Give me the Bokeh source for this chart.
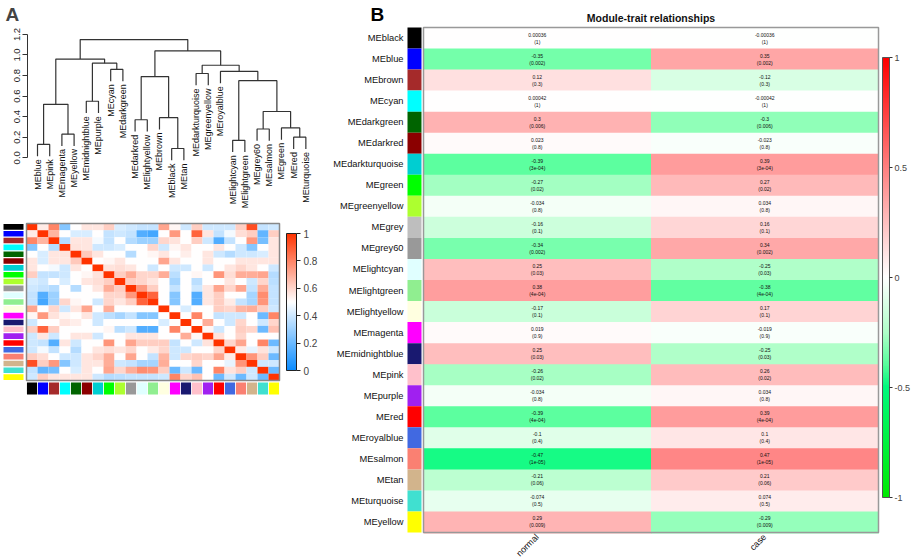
import numpy as np
from bokeh.plotting import figure
from bokeh.layouts import row, column
from bokeh.models import (Range1d, LinearColorMapper, ColorBar, FixedTicker, Title,
                          ColumnDataSource, NumeralTickFormatter)
from bokeh.transform import transform
from bokeh.embed import file_html
from bokeh.resources import INLINE
from bokeh.core.properties import value

FONT = "Liberation Sans"

# ---------------- colours of the modules ----------------
module_colors = {
    "MEblack": "#000000", "MEblue": "#0000FF", "MEbrown": "#A52A2A", "MEcyan": "#00FFFF",
    "MEdarkgreen": "#006400", "MEdarkred": "#8B0000", "MEdarkturquoise": "#00CED1",
    "MEgreen": "#00FF00", "MEgreenyellow": "#ADFF2F", "MEgrey": "#BEBEBE", "MEgrey60": "#999999",
    "MElightcyan": "#E0FFFF", "MElightgreen": "#90EE90", "MElightyellow": "#FFFFE0",
    "MEmagenta": "#FF00FF", "MEmidnightblue": "#191970", "MEpink": "#FFC0CB",
    "MEpurple": "#A020F0", "MEred": "#FF0000", "MEroyalblue": "#4169E1", "MEsalmon": "#FA8072",
    "MEtan": "#D2B48C", "MEturquoise": "#40E0D0", "MEyellow": "#FFFF00",
}

# ---------------- Panel A: dendrogram ----------------
dend_leaves = ["MEblue", "MEpink", "MEmagenta", "MEyellow", "MEmidnightblue", "MEpurple",
               "MEcyan", "MEdarkgreen", "MEdarkred", "MElightyellow", "MEbrown", "MEblack",
               "MEtan", "MEdarkturquoise", "MEgreenyellow", "MEroyalblue", "MElightcyan",
               "MElightgreen", "MEgrey60", "MEsalmon", "MEgreen", "MEred", "MEturquoise"]
# R hclust style merges: negative = leaf (1-based, in leaf order), positive = earlier merge
merge_a = [-12, -1, -17, -22, -3, -19, -21, -9, -11, 6, 2, -5, 3, 8, -14, -16, -7, 15, 12, 11, 14, 20]
merge_b = [-13, -2, -18, -23, -4, -20, 4, -10, 1, 7, 5, -6, 10, 9, -15, 13, -8, 16, 17, 19, 18, 21]
merge_h = [0.09, 0.13, 0.17, 0.20, 0.23, 0.28, 0.29, 0.37, 0.39, 0.45, 0.52, 0.55, 0.75,
           0.79, 0.82, 0.84, 0.86, 0.90, 0.92, 0.96, 1.04, 1.15]
dend_ticks = [0.0, 0.2, 0.4, 0.6, 0.8, 1.0, 1.2]
HANG = 0.115

# ---------------- Panel A: adjacency heatmap ----------------
adj_modules = ["MEblack", "MEblue", "MEbrown", "MEcyan", "MEdarkgreen", "MEdarkred",
               "MEdarkturquoise", "MEgreen", "MEgreenyellow", "MEgrey60", "MElightcyan",
               "MElightgreen", "MElightyellow", "MEmagenta", "MEmidnightblue", "MEpink",
               "MEpurple", "MEred", "MEroyalblue", "MEsalmon", "MEtan", "MEturquoise", "MEyellow"]
adj_upper = [
    [0.55, 0.80, 0.25, 0.50, 0.56, 0.56, 0.62, 0.42, 0.40, 0.38, 0.38, 0.72, 0.52, 0.40, 0.62, 0.40, 0.40, 0.40, 0.62, 0.93, 0.38, 0.40],
    [0.68, 0.50, 0.42, 0.42, 0.50, 0.38, 0.40, 0.38, 0.15, 0.12, 0.50, 0.75, 0.50, 0.88, 0.56, 0.38, 0.48, 0.58, 0.62, 0.18, 0.62],
    [0.35, 0.56, 0.56, 0.48, 0.38, 0.50, 0.35, 0.30, 0.30, 0.60, 0.57, 0.50, 0.62, 0.40, 0.15, 0.38, 0.50, 0.75, 0.22, 0.56],
    [0.57, 0.56, 0.40, 0.40, 0.42, 0.50, 0.50, 0.60, 0.40, 0.52, 0.56, 0.50, 0.50, 0.56, 0.50, 0.40, 0.25, 0.50, 0.56],
    [0.63, 0.56, 0.50, 0.50, 0.35, 0.50, 0.52, 0.56, 0.50, 0.54, 0.50, 0.56, 0.40, 0.35, 0.40, 0.40, 0.42, 0.56],
    [0.50, 0.52, 0.56, 0.50, 0.50, 0.50, 0.72, 0.56, 0.50, 0.50, 0.56, 0.50, 0.50, 0.56, 0.56, 0.56, 0.56],
    [0.57, 0.58, 0.56, 0.50, 0.40, 0.50, 0.40, 0.40, 0.50, 0.40, 0.50, 0.56, 0.60, 0.56, 0.50, 0.40],
    [0.62, 0.70, 0.60, 0.60, 0.70, 0.36, 0.50, 0.52, 0.50, 0.76, 0.58, 0.70, 0.70, 0.72, 0.35],
    [0.62, 0.60, 0.56, 0.50, 0.32, 0.50, 0.36, 0.50, 0.50, 0.56, 0.50, 0.40, 0.60, 0.36],
    [0.75, 0.62, 0.50, 0.38, 0.50, 0.40, 0.56, 0.72, 0.60, 0.72, 0.38, 0.70, 0.38],
    [0.88, 0.50, 0.25, 0.50, 0.15, 0.56, 0.62, 0.50, 0.50, 0.32, 0.78, 0.38],
    [0.50, 0.25, 0.50, 0.15, 0.56, 0.62, 0.55, 0.38, 0.32, 0.76, 0.38],
    [0.50, 0.42, 0.50, 0.50, 0.62, 0.60, 0.68, 0.70, 0.62, 0.40],
    [0.50, 0.80, 0.50, 0.38, 0.40, 0.40, 0.50, 0.20, 0.80],
    [0.50, 0.70, 0.50, 0.40, 0.60, 0.50, 0.40, 0.60],
    [0.52, 0.40, 0.50, 0.62, 0.60, 0.20, 0.65],
    [0.57, 0.50, 0.60, 0.50, 0.50, 0.50],
    [0.60, 0.72, 0.50, 0.80, 0.20],
    [0.55, 0.45, 0.57, 0.40],
    [0.76, 0.62, 0.20],
    [0.40, 0.40],
    [0.20],
]
adj_ticks = [0, 0.2, 0.4, 0.6, 0.8, 1]

# ---------------- Panel B: module-trait relationships ----------------
trait_names = ["normal", "case"]
trait_modules = ["MEblack", "MEblue", "MEbrown", "MEcyan", "MEdarkgreen", "MEdarkred",
                 "MEdarkturquoise", "MEgreen", "MEgreenyellow", "MEgrey", "MEgrey60",
                 "MElightcyan", "MElightgreen", "MElightyellow", "MEmagenta", "MEmidnightblue",
                 "MEpink", "MEpurple", "MEred", "MEroyalblue", "MEsalmon", "MEtan",
                 "MEturquoise", "MEyellow"]
cor_normal = [0.00036, -0.35, 0.12, 0.00042, 0.3, 0.023, -0.39, -0.27, -0.034, -0.16, -0.34,
              0.25, 0.38, -0.17, 0.019, 0.25, -0.26, -0.034, -0.39, -0.1, -0.47, -0.21, -0.074, 0.29]
cor_case = [-0.00036, 0.35, -0.12, -0.00042, -0.3, -0.023, 0.39, 0.27, 0.034, 0.16, 0.34,
            -0.25, -0.38, 0.17, -0.019, -0.25, 0.26, 0.034, 0.39, 0.1, 0.47, 0.21, 0.074, -0.29]
p_values = [1, 0.002, 0.3, 1, 0.006, 0.8, 3e-04, 0.02, 0.8, 0.1, 0.002, 0.03, 4e-04, 0.1, 0.9,
            0.03, 0.02, 0.8, 4e-04, 0.4, 1e-05, 0.06, 0.5, 0.009]
cor_ticks = [-1, -0.5, 0, 0.5, 1]


def ramp(stops, n=256):
    pos = np.array([s[0] for s in stops], dtype=float)
    cols = np.array([s[1] for s in stops], dtype=float)
    t = np.linspace(pos[0], pos[-1], n)
    out = []
    for tt in t:
        r, g, b = (int(round(np.interp(tt, pos, cols[:, k]))) for k in range(3))
        out.append("#%02x%02x%02x" % (r, g, b))
    return out


pal_adj = ramp([(0.0, (10, 140, 255)), (0.5, (255, 255, 255)), (1.0, (255, 51, 0))])
pal_cor = ramp([(-1.0, (0, 235, 0)), (-0.5, (0, 250, 125)), (-0.4, (85, 255, 155)),
                (-0.25, (175, 255, 200)), (0.0, (255, 255, 255)), (1.0, (255, 0, 0))])


def clean(p):
    p.xgrid.visible = False
    p.ygrid.visible = False
    p.outline_line_color = None
    p.background_fill_color = "white"
    p.border_fill_color = "white"


# ======== Figure: dendrogram ========
pd_ = figure(width=330, height=214, x_range=Range1d(-0.82, 24.02), y_range=Range1d(-0.552, 1.287),
             output_backend="svg", toolbar_location=None,
             min_border_left=27, min_border_right=0, min_border_top=24, min_border_bottom=0)
clean(pd_)
pd_.xaxis.visible = False
pd_.add_layout(Title(text="A", align="left", offset=-22, standoff=2, text_font=FONT,
                     text_font_size="19px", text_font_style="bold"), "above")
ya = pd_.yaxis[0]
ya.ticker = FixedTicker(ticks=dend_ticks)
ya.bounds = (dend_ticks[0], dend_ticks[-1])
ya.formatter = NumeralTickFormatter(format="0.0")
ya.major_label_orientation = "vertical"
ya.major_label_text_font = FONT
ya.major_label_text_font_size = "9.5px"
ya.major_label_text_color = "#222222"
ya.axis_line_color = "#333333"
ya.major_tick_line_color = "#333333"
ya.major_tick_out = 5
ya.major_tick_in = 0
ya.minor_tick_line_color = None
ya.major_label_standoff = 2

n_leaf = len(dend_leaves)
leaf_bottom = [0.0] * n_leaf
node_x, node_h = [], []
seg_xs, seg_ys = [], []
for a, b, h in zip(merge_a, merge_b, merge_h):
    ends = []
    for c in (a, b):
        if c < 0:
            cx_, ch_ = float(-c - 1), h - HANG
            leaf_bottom[-c - 1] = ch_
        else:
            cx_, ch_ = node_x[c - 1], node_h[c - 1]
        ends.append((cx_, ch_))
    (xa, ha), (xb, hb) = ends
    seg_xs.append([xa, xa, xb, xb])
    seg_ys.append([ha, h, h, hb])
    node_x.append((xa + xb) / 2.0)
    node_h.append(h)
pd_.multi_line(xs=seg_xs, ys=seg_ys, line_color="#333333", line_width=1.2)
pd_.text(x=list(range(n_leaf)), y=[lb - 0.03 for lb in leaf_bottom], text=dend_leaves,
         angle=np.pi / 2, text_align="right", text_baseline="middle",
         text_font=value(FONT), text_font_size="9px", text_color="#111111")

# ======== Figure: adjacency heatmap ========
n = len(adj_modules)
M = np.eye(n)
for i, rv in enumerate(adj_upper):
    for k, v in enumerate(rv):
        j = i + 1 + k
        M[i, j] = v
        M[j, i] = v
hx, hy, hv = [], [], []
for i in range(n):
    for j in range(n):
        hx.append(j + 0.5)
        hy.append(n - 0.5 - i)
        hv.append(M[i, j])
map_adj = LinearColorMapper(palette=pal_adj, low=0, high=1)

ph = figure(width=330, height=345, x_range=Range1d(-2.364, 27.636), y_range=Range1d(-26.22, 24.318),
            output_backend="svg", toolbar_location=None, min_border=0,
            min_border_left=0, min_border_right=0, min_border_top=0, min_border_bottom=0)
clean(ph)
ph.axis.visible = False
ph.rect(x="x", y="y", width=1, height=1, dilate=True, source=ColumnDataSource(dict(x=hx, y=hy, v=hv)),
        fill_color=transform("v", map_adj), line_color=None)
ph.quad(left=0, right=n, bottom=0, top=n, fill_color=None, line_color="#888888", line_width=1.5)
mcols = [module_colors[m] for m in adj_modules]
ph.rect(x=-1.182, y=[n - 0.5 - i for i in range(n)], width=1.818, height=0.82, fill_color=mcols, line_color=None)
ph.rect(x=[j + 0.5 for j in range(n)], y=-1.172, width=0.92, height=1.758, fill_color=mcols, line_color=None)
cb_a = ColorBar(color_mapper=map_adj, ticker=FixedTicker(ticks=adj_ticks),
                formatter=NumeralTickFormatter(format="0.[0]"),
                width=10, height=137, location=(286, 189), padding=0, margin=0,
                background_fill_color=None, border_line_color=None,
                bar_line_color="#222222", major_tick_line_color="#222222",
                major_tick_out=4, major_tick_in=0, label_standoff=3,
                major_label_text_font=FONT, major_label_text_font_size="10px")
ph.add_layout(cb_a)

# ======== Figure: module-trait ========
nm = len(trait_modules)
nt = len(trait_names)
cx, cy, cv, ctxt, ptxt = [], [], [], [], []
for k, vals in enumerate([cor_normal, cor_case]):
    for i in range(nm):
        cx.append(k + 0.5)
        cy.append(nm - 0.5 - i)
        cv.append(vals[i])
        ctxt.append("%g" % vals[i])
        pv = p_values[i]
        ptxt.append("(%s)" % (("%.0e" % pv) if pv < 1e-3 else ("%g" % pv)))
map_cor = LinearColorMapper(palette=pal_cor, low=-1, high=1)

pb = figure(width=583, height=559, x_range=Range1d(-0.4088, 2.1538), y_range=Range1d(-1.283, 25.283),
            output_backend="svg", toolbar_location=None, min_border=0,
            min_border_left=0, min_border_right=0, min_border_top=0, min_border_bottom=0)
clean(pb)
pb.axis.visible = False

src_b = ColumnDataSource(dict(x=cx, y=cy, v=cv, t=ctxt, p=ptxt))
pb.rect(x="x", y="y", width=1, height=1, dilate=True, source=src_b,
        fill_color=transform("v", map_cor), line_color=None)
pb.quad(left=0, right=nt, bottom=0, top=nm, fill_color=None,
        line_color="#999999", line_width=1.5)
row_y = [nm - 0.5 - i for i in range(nm)]
pb.rect(x=-0.0396, y=row_y, width=0.0615, height=1,
        fill_color=[module_colors[m] for m in trait_modules], line_color=None)
pb.text(x=-0.0879, y=row_y, text=trait_modules, text_align="right", text_baseline="middle",
        text_font=value(FONT), text_font_size="9.3px", text_color="#111111")
pb.text(x="x", y="y", text="t", source=src_b, y_offset=-3.5, text_align="center",
        text_baseline="middle", text_font=value(FONT), text_font_size="5px", text_color="#111111")
pb.text(x="x", y="y", text="p", source=src_b, y_offset=3.5, text_align="center",
        text_baseline="middle", text_font=value(FONT), text_font_size="5px", text_color="#111111")
pb.text(x=[k + 0.5 for k in range(nt)], y=-0.143, text=trait_names,
        angle=np.pi / 4, text_align="right", text_baseline="middle",
        text_font=value(FONT), text_font_size="9px", text_color="#111111")
pb.text(x=[nt / 2], y=[nm + 0.475], text=["Module-trait relationships"], text_align="center",
        text_baseline="middle", text_font=value(FONT), text_font_size="10.5px",
        text_font_style="bold", text_color="#111111")
pb.text(x=[-0.233], y=[nm + 1.14], text=["B"], text_align="left", text_baseline="top",
        text_font=value(FONT), text_font_size="19px", text_font_style="bold", text_color="#000000")
cb_b = ColorBar(color_mapper=map_cor, ticker=FixedTicker(ticks=cor_ticks),
                formatter=NumeralTickFormatter(format="0.[0]"),
                width=7, height=440, location=(552, 62), padding=0, margin=0,
                background_fill_color=None, border_line_color=None,
                bar_line_color="#555555", major_tick_line_color="#333333",
                major_tick_out=3, major_tick_in=0, label_standoff=2,
                major_label_text_font=FONT, major_label_text_font_size="9px")
pb.add_layout(cb_b)

layout = row(column(pd_, row(ph, spacing=0), spacing=0), pb, spacing=0)
open("out.html", "w").write(file_html(layout, INLINE))
